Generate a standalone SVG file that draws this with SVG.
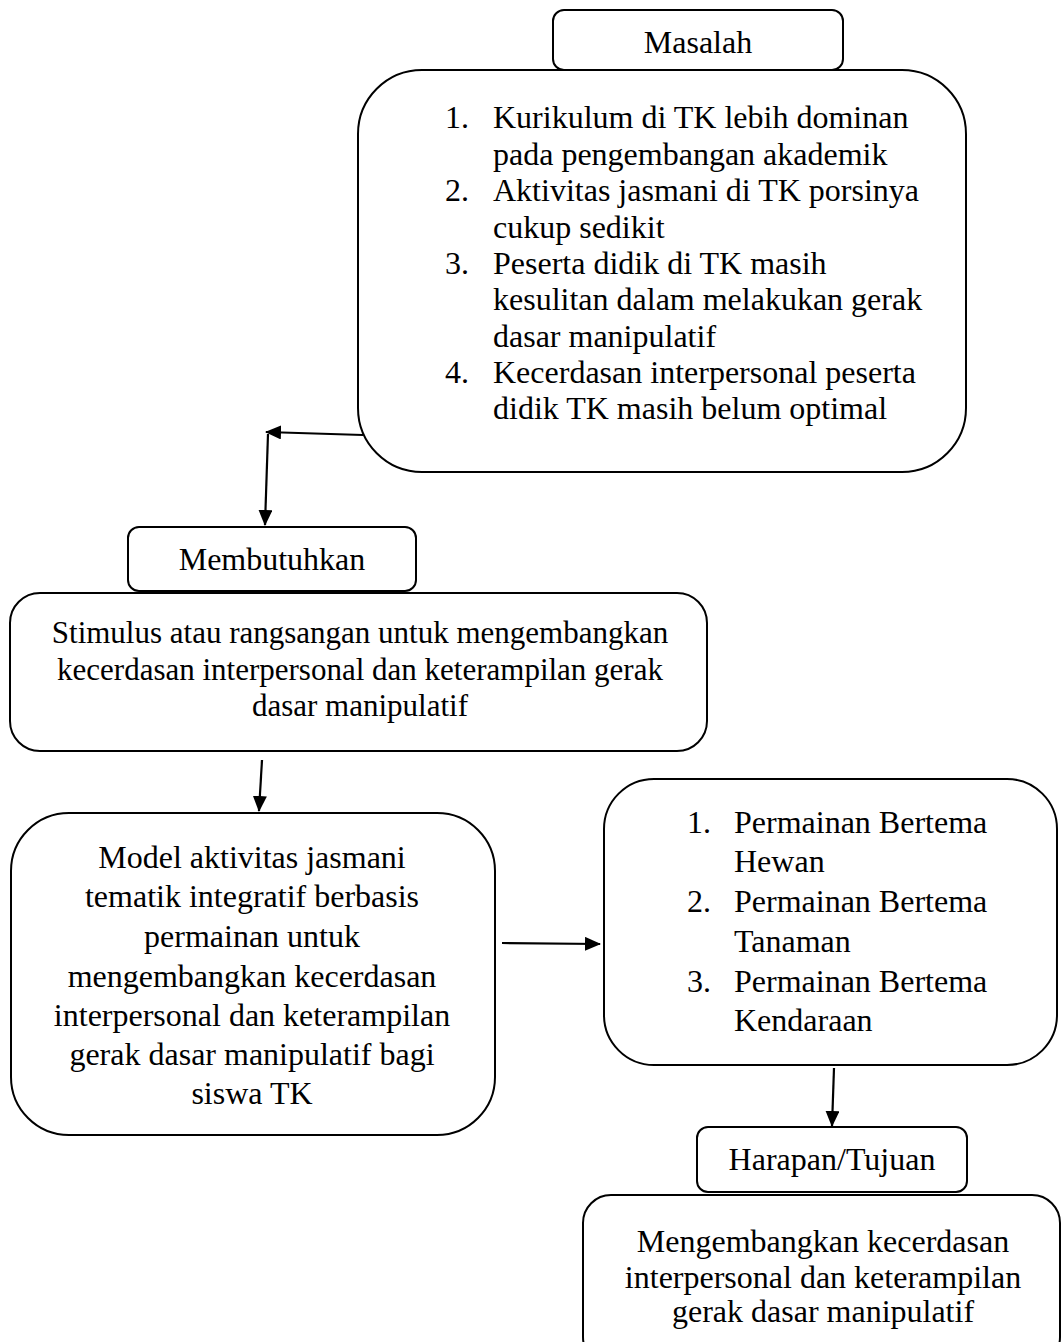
<svg xmlns="http://www.w3.org/2000/svg" width="1062" height="1342" viewBox="0 0 1062 1342">
<style>
.box{fill:#fff;stroke:#000;stroke-width:2}
.t{font-family:"Liberation Serif","Times New Roman",serif;font-size:32px;fill:#000}
.c{text-anchor:middle}
.conn{stroke:#000;stroke-width:2.2;fill:none}
</style>
<defs>
<marker id="ah" markerUnits="userSpaceOnUse" markerWidth="16" markerHeight="14" refX="15" refY="7" orient="auto">
<path d="M0,0 L16,7 L0,14 z" fill="#000"/>
</marker>
</defs>
<rect width="1062" height="1342" fill="#fff"/>

<g id="masalah-label">
<rect class="box" x="553" y="10" width="290" height="60" rx="11"/>
<text class="t c" x="698" y="53">Masalah</text>
</g>

<g id="masalah">
<rect class="box" x="358" y="70" width="608" height="402" rx="64"/>
<g class="t">
<text x="445" y="128">1.</text><text x="493" y="128">Kurikulum di TK lebih dominan</text>
<text x="493" y="165">pada pengembangan akademik</text>
<text x="445" y="201">2.</text><text x="493" y="201">Aktivitas jasmani di TK porsinya</text>
<text x="493" y="238">cukup sedikit</text>
<text x="445" y="274">3.</text><text x="493" y="274">Peserta didik di TK masih</text>
<text x="493" y="310">kesulitan dalam melakukan gerak</text>
<text x="493" y="347">dasar manipulatif</text>
<text x="445" y="383">4.</text><text x="493" y="383">Kecerdasan interpersonal peserta</text>
<text x="493" y="419">didik TK masih belum optimal</text>
</g>
</g>

<g id="membutuhkan">
<rect class="box" x="128" y="527" width="288" height="64" rx="11"/>
<text class="t c" x="272" y="570">Membutuhkan</text>
</g>

<g id="stimulus">
<rect class="box" x="10" y="593" width="697" height="158" rx="30"/>
<g class="t c" style="font-size:31px">
<text x="360" y="643">Stimulus atau rangsangan untuk mengembangkan</text>
<text x="360" y="680">kecerdasan interpersonal dan keterampilan gerak</text>
<text x="360" y="716">dasar manipulatif</text>
</g>
</g>

<g id="model">
<rect class="box" x="11" y="813" width="484" height="322" rx="58"/>
<g class="t c">
<text x="252" y="868">Model aktivitas jasmani</text>
<text x="252" y="907">tematik integratif berbasis</text>
<text x="252" y="947">permainan untuk</text>
<text x="252" y="987">mengembangkan kecerdasan</text>
<text x="252" y="1026">interpersonal dan keterampilan</text>
<text x="252" y="1065">gerak dasar manipulatif bagi</text>
<text x="252" y="1104">siswa TK</text>
</g>
</g>

<g id="permainan">
<rect class="box" x="604" y="779" width="453" height="286" rx="50"/>
<g class="t">
<text x="687" y="833">1.</text><text x="734" y="833">Permainan Bertema</text>
<text x="734" y="872">Hewan</text>
<text x="687" y="912">2.</text><text x="734" y="912">Permainan Bertema</text>
<text x="734" y="952">Tanaman</text>
<text x="687" y="992">3.</text><text x="734" y="992">Permainan Bertema</text>
<text x="734" y="1031">Kendaraan</text>
</g>
</g>

<g id="harapan-label">
<rect class="box" x="697" y="1127" width="270" height="65" rx="11"/>
<text class="t c" x="832" y="1170">Harapan/Tujuan</text>
</g>

<g id="tujuan">
<rect class="box" x="583" y="1195" width="477" height="170" rx="28"/>
<g class="t c">
<text x="823" y="1252">Mengembangkan kecerdasan</text>
<text x="823" y="1288">interpersonal dan keterampilan</text>
<text x="823" y="1322">gerak dasar manipulatif</text>
</g>
</g>

<g id="connectors">
<line class="conn" x1="363" y1="435" x2="266" y2="432" marker-end="url(#ah)"/>
<line class="conn" x1="268" y1="434" x2="265" y2="525" marker-end="url(#ah)"/>
<line class="conn" x1="262" y1="760" x2="259" y2="811" marker-end="url(#ah)"/>
<line class="conn" x1="502" y1="943" x2="600" y2="944" marker-end="url(#ah)"/>
<line class="conn" x1="834" y1="1068" x2="832" y2="1126" marker-end="url(#ah)"/>
</g>
</svg>
